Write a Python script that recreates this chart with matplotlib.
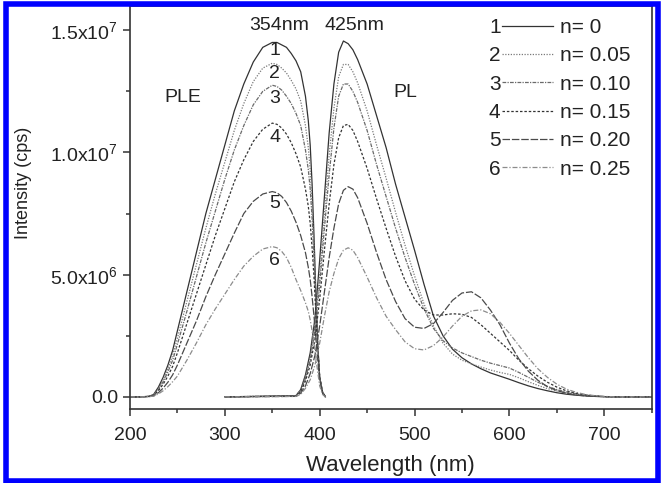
import matplotlib
matplotlib.use("Agg")
import matplotlib.pyplot as plt
from matplotlib.patches import Rectangle
from matplotlib.lines import Line2D
import numpy as np

plt.rcParams['font.family'] = ['Liberation Sans', 'DejaVu Sans']
plt.rcParams['mathtext.default'] = 'regular'

# --- data (intensity in units of 1e6 cps) ---
ple_wl = [200, 210, 220, 225, 230, 235, 240, 245, 250, 260, 270, 280, 290, 300, 310,
          320, 330, 340, 350, 355, 360, 365, 370, 375, 380, 385, 388, 390, 392, 394,
          396, 398, 400, 403, 406]
ple1 = [0, 0, 0.02, 0.1, 0.4, 0.8, 1.3, 1.9, 2.7, 4.3, 5.9, 7.5, 8.9, 10.3, 11.7,
        12.8, 13.7, 14.3, 14.5, 14.5, 14.4, 14.3, 14.05, 13.75, 13.3, 12.3, 11.3, 10.3, 8.7, 6.6,
        4.2, 2.1, 0.8, 0.2, 0]
ple2 = [0, 0, 0.02, 0.08, 0.33, 0.7, 1.15, 1.7, 2.4, 3.9, 5.4, 6.9, 8.3, 9.6, 10.9,
        12.0, 12.9, 13.45, 13.65, 13.6, 13.45, 13.25, 12.95, 12.6, 12.1, 11.1, 10.2, 9.3, 7.9, 6.1,
        4.0, 2.1, 0.8, 0.2, 0]
ple3 = [0, 0, 0.02, 0.07, 0.3, 0.62, 1.02, 1.5, 2.15, 3.5, 4.9, 6.3, 7.6, 8.9, 10.1,
        11.1, 11.95, 12.5, 12.75, 12.7, 12.55, 12.3, 12.0, 11.6, 11.1, 10.1, 9.3, 8.5, 7.3, 5.7,
        3.9, 2.1, 0.8, 0.2, 0]
ple4 = [0, 0, 0.02, 0.06, 0.25, 0.52, 0.85, 1.25, 1.8, 3.0, 4.2, 5.4, 6.6, 7.7, 8.8,
        9.7, 10.45, 10.95, 11.2, 11.15, 11.0, 10.75, 10.4, 9.95, 9.4, 8.5, 7.8, 7.1, 6.1, 4.9,
        3.4, 2.0, 0.8, 0.2, 0]
ple5 = [0, 0, 0.01, 0.04, 0.17, 0.36, 0.6, 0.9, 1.3, 2.2, 3.1, 4.1, 5.0, 5.85, 6.7,
        7.5, 8.0, 8.3, 8.4, 8.35, 8.2, 7.95, 7.6, 7.15, 6.6, 5.9, 5.3, 4.8, 4.1, 3.3,
        2.4, 1.5, 0.7, 0.15, 0]
ple6 = [0, 0, 0.01, 0.03, 0.12, 0.25, 0.42, 0.62, 0.85, 1.5, 2.2, 2.95, 3.6, 4.2, 4.8,
        5.35, 5.75, 6.05, 6.15, 6.1, 5.95, 5.7, 5.3, 4.8, 4.35, 3.85, 3.5, 3.15, 2.7, 2.2,
        1.6, 1.0, 0.45, 0.1, 0]

pl_wl = [300, 375, 380, 385, 390, 395, 400, 405, 410, 415, 420, 425, 430, 435, 440,
         450, 460, 470, 480, 490, 500, 510, 520, 530, 540, 550, 560, 570, 580, 590,
         600, 610, 620, 630, 640, 650, 660, 670, 680, 690, 700, 710, 750]
pl1 = [0, 0.05, 0.3, 0.9, 1.8, 3.2, 5.6, 8.2, 10.8, 12.8, 14.1, 14.56, 14.45, 14.2, 13.8,
       12.8, 11.5, 10.2, 8.7, 7.35, 6.0, 4.6, 3.3, 2.5, 1.95, 1.6, 1.35, 1.15, 0.98, 0.85,
       0.72, 0.58, 0.45, 0.34, 0.25, 0.17, 0.11, 0.07, 0.04, 0.02, 0.01, 0, 0]
pl2 = [0, 0.05, 0.28, 0.8, 1.6, 2.9, 5.0, 7.5, 9.9, 11.8, 13.1, 13.6, 13.6, 13.3, 12.85,
       11.7, 10.3, 8.95, 7.55, 6.2, 4.95, 3.8, 2.9, 2.2, 1.75, 1.5, 1.35, 1.22, 1.1, 1.0,
       0.92, 0.78, 0.62, 0.47, 0.34, 0.24, 0.16, 0.1, 0.06, 0.03, 0.01, 0, 0]
pl3 = [0, 0.04, 0.25, 0.75, 1.5, 2.7, 4.6, 6.9, 9.1, 11.0, 12.3, 12.8, 12.8, 12.5, 12.05,
       10.9, 9.5, 8.2, 6.9, 5.7, 4.6, 3.6, 2.8, 2.3, 2.0, 1.8, 1.65, 1.5, 1.38, 1.28,
       1.18, 1.0, 0.8, 0.6, 0.43, 0.3, 0.2, 0.12, 0.07, 0.03, 0.01, 0, 0]
pl4 = [0, 0.03, 0.2, 0.65, 1.3, 2.35, 4.0, 6.0, 7.9, 9.5, 10.6, 11.1, 11.15, 10.9, 10.45,
       9.35, 8.1, 6.9, 5.75, 4.75, 4.0, 3.55, 3.35, 3.35, 3.4, 3.38, 3.25, 2.95, 2.6, 2.25,
       1.9, 1.5, 1.15, 0.85, 0.6, 0.4, 0.25, 0.15, 0.08, 0.04, 0.01, 0, 0]
pl5 = [0, 0.02, 0.15, 0.45, 0.95, 1.7, 2.9, 4.3, 5.7, 6.9, 7.9, 8.45, 8.6, 8.5, 8.15,
       7.1, 5.9, 4.8, 3.9, 3.2, 2.85, 2.8, 3.0, 3.45, 3.95, 4.25, 4.3, 4.05, 3.55, 2.95,
       2.2, 1.55, 1.05, 0.68, 0.42, 0.26, 0.15, 0.08, 0.04, 0.02, 0.01, 0, 0]
pl6 = [0, 0.02, 0.1, 0.35, 0.7, 1.3, 2.2, 3.3, 4.3, 5.05, 5.65, 6.0, 6.1, 6.0, 5.7,
       4.9, 4.05, 3.3, 2.75, 2.25, 1.97, 1.92, 2.1, 2.45, 2.9, 3.3, 3.52, 3.56, 3.4, 3.05,
       2.6, 2.1, 1.6, 1.15, 0.8, 0.52, 0.32, 0.19, 0.1, 0.05, 0.02, 0, 0]

curve_ids = ['1', '2', '3', '4', '5', '6']
n_labels = ['n= 0', 'n= 0.05', 'n= 0.10', 'n= 0.15', 'n= 0.20', 'n= 0.25']
ple_all = [ple1, ple2, ple3, ple4, ple5, ple6]
pl_all = [pl1, pl2, pl3, pl4, pl5, pl6]

ytick_vals = [0, 5e6, 1e7, 1.5e7]
ytick_labels = ['0.0', '5.0x10$^6$', '1.0x10$^7$', '1.5x10$^7$']

# --- styles ---
styles = [
    dict(color='#333333', ls='-'),
    dict(color='#7a7a7a', ls=(0, (1, 1.2))),
    dict(color='#6a6a6a', ls=(0, (3, 1, 1, 1))),
    dict(color='#333333', ls=(0, (2, 1.5))),
    dict(color='#4a4a4a', ls=(0, (6, 1.5))),
    dict(color='#8c8c8c', ls=(0, (4, 1.5, 1, 1.5))),
]
txt_color = '#222222'
fs = 15

fig = plt.figure(figsize=(6.63, 4.83), dpi=100)
ax = fig.add_axes([0.196, 0.153, 0.787, 0.835])

handles = []
for ple, pl, st in zip(ple_all, pl_all, styles):
    h, = ax.plot(ple_wl, np.array(ple) * 1e6, lw=0.9, **st)
    ax.plot(pl_wl, np.array(pl) * 1e6, lw=0.9, **st)
    handles.append(h)

ax.set_xlim(200, 750)
ax.set_ylim(-0.5e6, 1.6e7)
ax.set_xticks([200, 300, 400, 500, 600, 700])
ax.set_xticks(np.arange(250, 751, 100), minor=True)
ax.set_yticks(ytick_vals)
ax.set_yticklabels(ytick_labels)
ax.set_yticks([2.5e6, 7.5e6, 1.25e7], minor=True)
ax.tick_params(which='major', direction='out', length=5, width=1.1, colors='#333333',
               labelsize=fs - 1, labelcolor=txt_color)
ax.tick_params(which='minor', direction='out', length=3, width=1.1, colors='#333333')
ax.tick_params(axis='x', which='major', pad=8)
for sp in ax.spines.values():
    sp.set_color('#333333')
    sp.set_linewidth(1.2)

ax.set_xlabel('Wavelength (nm)', fontsize=fs + 1, color=txt_color, labelpad=8)
ax.set_ylabel('Intensity (cps)', fontsize=fs - 2, color=txt_color)
ax.yaxis.set_label_coords(-0.187, 0.56)

# annotations
ax.text(357, 1.52e7, '354nm', fontsize=fs - 1, color=txt_color, ha='center', va='center')
ax.text(437, 1.52e7, '425nm', fontsize=fs - 1, color=txt_color, ha='center', va='center')
ax.text(256, 1.225e7, 'PLE', fontsize=fs - 1, color=txt_color, ha='center', va='center')
ax.text(490, 1.245e7, 'PL', fontsize=fs - 1, color=txt_color, ha='center', va='center')
num_y = [14.18e6, 13.24e6, 12.21e6, 10.61e6, 7.9e6, 5.57e6]
for cid, yy in zip(curve_ids, num_y):
    ax.text(352.5, yy, cid, fontsize=fs - 1, color=txt_color, ha='center', va='center')

# legend: digit + line, then n label
leg1 = ax.legend(handles, curve_ids, loc='upper right', bbox_to_anchor=(0.81, 0.97),
                 frameon=False, markerfirst=False, fontsize=fs, handlelength=2.45,
                 handletextpad=0.05, labelspacing=0.45, borderpad=0, borderaxespad=0,
                 labelcolor=txt_color)
ax.add_artist(leg1)
blank = [Line2D([], [], alpha=0) for _ in n_labels]
ax.legend(blank, n_labels, loc='upper left', bbox_to_anchor=(0.825, 0.97),
          frameon=False, fontsize=fs, handlelength=0, handletextpad=0,
          labelspacing=0.45, borderpad=0, borderaxespad=0, labelcolor=txt_color)

# blue frame around the figure
fig.patches.append(Rectangle((6 / 663, 2 / 483), 652 / 663, 477 / 483, transform=fig.transFigure,
                             fill=False, edgecolor='#0000ff', linewidth=4, zorder=10))

fig.savefig('out.png', dpi=100)
